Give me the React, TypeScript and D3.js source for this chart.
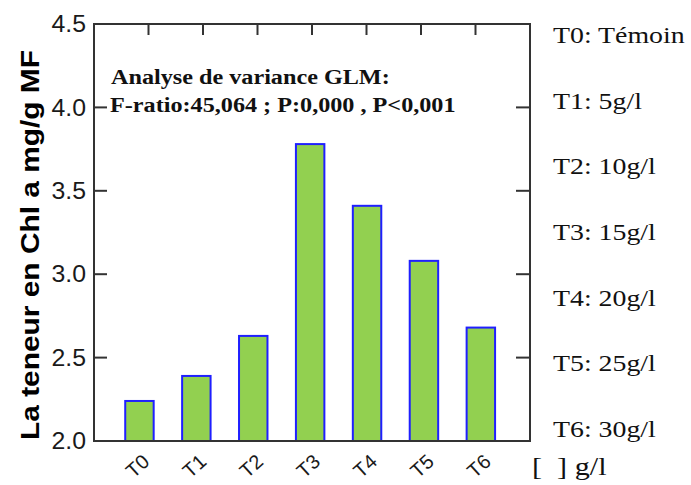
import * as React from "react";
import * as d3 from "d3";

const treatments = ["T0", "T1", "T2", "T3", "T4", "T5", "T6"];
const chlA = [2.24, 2.39, 2.63, 3.78, 3.41, 3.08, 2.68];
const yTicks = [2.0, 2.5, 3.0, 3.5, 4.0, 4.5];
const legendLabels = [
  "T0: Témoin",
  "T1: 5g/l",
  "T2: 10g/l",
  "T3: 15g/l",
  "T4: 20g/l",
  "T5: 25g/l",
  "T6: 30g/l",
];
const anovaLines = [
  "Analyse de variance GLM:",
  "F-ratio:45,064 ; P:0,000 , P<0,001",
];
const yTitle = "La teneur en Chl a mg/g MF";
const unitLabel = "[  ] g/l";

export default function App() {
  const width = 691;
  const height = 485;
  const left = 94;
  const right = 530;
  const top = 24;
  const bottom = 441;

  const y = d3.scaleLinear().domain([2, 4.5]).range([bottom, top]);
  const x = d3
    .scaleBand()
    .domain(treatments)
    .range([111, 509.3])
    .paddingInner(0.5)
    .paddingOuter(0.25);
  const topTicks = d3.scaleLinear().domain([0, 8]).range([left, right]);
  const legendY = d3.scalePoint().domain(legendLabels).range([43, 437]);

  const sans = "'Liberation Sans', Arial, sans-serif";
  const serif = "'Liberation Serif', 'Times New Roman', serif";

  return (
    <svg
      width={width}
      height={height}
      style={{ position: "absolute", left: 0, top: 0, background: "#fff" }}
    >
      {/* bars */}
      {treatments.map((t, i) => (
        <rect
          key={t}
          x={x(t)}
          y={y(chlA[i])}
          width={x.bandwidth()}
          height={bottom - y(chlA[i])}
          fill="#92d050"
          stroke="#1f1fff"
          strokeWidth={2}
        />
      ))}

      {/* frame */}
      <rect
        x={left}
        y={top}
        width={right - left}
        height={bottom - top}
        fill="none"
        stroke="#333"
        strokeWidth={2}
      />

      {/* y ticks, left and right, pointing inward */}
      {yTicks.map((v) => (
        <g key={v}>
          <line x1={left} x2={left + 13} y1={y(v)} y2={y(v)} stroke="#333" strokeWidth={2} />
          <line x1={right - 14} x2={right} y1={y(v)} y2={y(v)} stroke="#333" strokeWidth={2} />
          <text
            transform={`translate(86,${y(v)}) scale(1.08,1)`}
            textAnchor="end"
            dominantBaseline="central"
            fontFamily={sans}
            fontSize={23}
            fill="#1a1a1a"
          >
            {v.toFixed(1)}
          </text>
        </g>
      ))}

      {/* top ticks */}
      {d3.range(1, 8).map((k) => (
        <line
          key={k}
          x1={topTicks(k)}
          x2={topTicks(k)}
          y1={top}
          y2={top + 11}
          stroke="#333"
          strokeWidth={2}
        />
      ))}

      {/* x labels */}
      {treatments.map((t) => {
        const cx = (x(t) as number) + x.bandwidth() / 2 - 2;
        return (
          <text
            key={t}
            transform={`translate(${cx},466) rotate(-42)`}
            textAnchor="middle"
            dominantBaseline="central"
            fontFamily={sans}
            fontSize={20}
            fill="#1a1a1a"
          >
            {t}
          </text>
        );
      })}

      {/* y title */}
      <text
        transform={`translate(39,245) rotate(-90)`}
        textAnchor="middle"
        fontFamily={sans}
        fontWeight="bold"
        fontSize={25}
        textLength={390}
        lengthAdjust="spacingAndGlyphs"
        fill="#000"
      >
        {yTitle}
      </text>

      {/* ANOVA annotation */}
      {anovaLines.map((s, i) => (
        <text
          key={s}
          transform={`translate(${i === 0 ? 111 : 110},${84 + i * 28}) scale(1.1,1)`}
          fontFamily={serif}
          fontWeight="bold"
          fontSize={22}
          fill="#111"
        >
          {s}
        </text>
      ))}

      {/* legend */}
      {legendLabels.map((s) => (
        <text
          key={s}
          transform={`translate(553,${legendY(s)}) scale(1.16,1)`}
          fontFamily={serif}
          fontSize={24}
          fill="#111"
        >
          {s}
        </text>
      ))}
      <text
        transform={`translate(532,475) scale(1.16,1)`}
        fontFamily={serif}
        fontSize={26}
        fill="#111"
        style={{ whiteSpace: "pre" }}
      >
        {unitLabel}
      </text>
    </svg>
  );
}
